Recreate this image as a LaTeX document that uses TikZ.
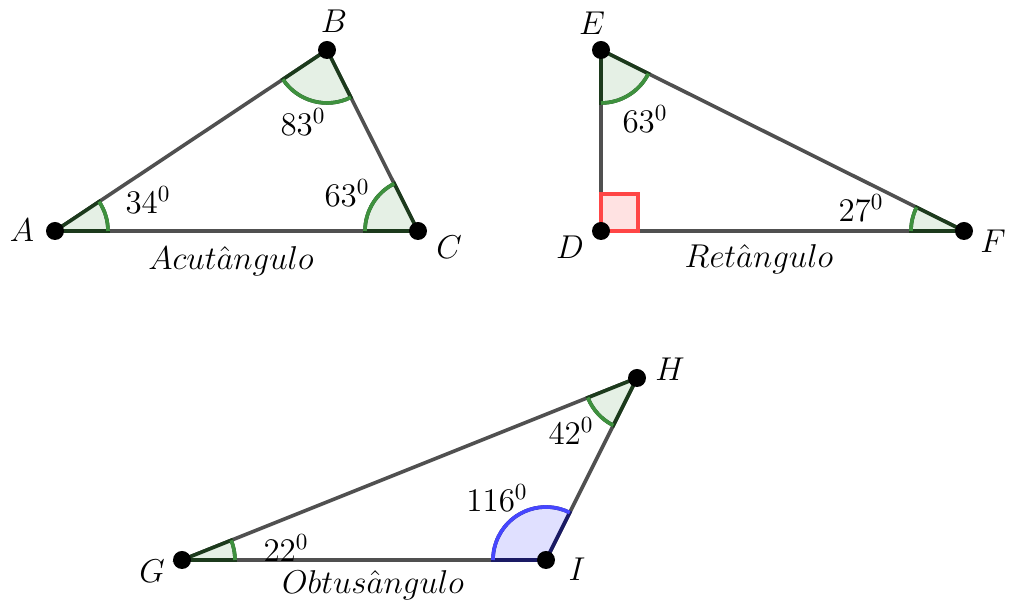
\RequirePackage{fix-cm}
\documentclass[tikz,border=0pt]{standalone}
\usepackage{amsmath}
\usetikzlibrary{calc}
\definecolor{sidegray}{RGB}{80,80,80}
\definecolor{arcgreen}{RGB}{62,145,62}
\definecolor{leggreen}{RGB}{28,58,28}
\definecolor{fillgreen}{RGB}{229,240,229}
\definecolor{arcblue}{RGB}{70,70,255}
\definecolor{legblue}{RGB}{26,26,100}
\definecolor{fillblue}{RGB}{224,224,255}
\definecolor{sqred}{RGB}{255,70,70}
\definecolor{fillred}{RGB}{255,226,226}
\tikzset{
  side/.style={draw=sidegray, line width=1.8pt},
  pt/.style={circle, fill=black, minimum size=9pt, inner sep=0pt},
  lbl/.style={inner sep=0pt},
  gsector/.style={fill=fillgreen, draw=leggreen, line width=1.8pt},
  garc/.style={draw=arcgreen, line width=1.8pt},
  bsector/.style={fill=fillblue, draw=legblue, line width=1.8pt},
  barc/.style={draw=arcblue, line width=1.8pt},
  rsquare/.style={fill=fillred, draw=sqred, line width=1.8pt},
}

\begin{document}
\begin{tikzpicture}[x=0.5pt, y=0.5pt, font=\fontsize{16.5}{20}\selectfont]
  \useasboundingbox (0,0) rectangle (1009,603);

  % ----- vertices -----------------------------------------------------------
  \coordinate (A) at (55,372);
  \coordinate (B) at (327,553);
  \coordinate (C) at (418,372);
  \coordinate (D) at (601,372);
  \coordinate (E) at (601,553);
  \coordinate (F) at (964,372);
  \coordinate (G) at (182,43);
  \coordinate (H) at (637,225);
  \coordinate (I) at (546,43);

  % ----- sides --------------------------------------------------------------
  \draw[side] (A) -- (B) -- (C) -- cycle;
  \draw[side] (D) -- (E) -- (F) -- cycle;
  \draw[side] (G) -- (H) -- (I) -- cycle;

  % ----- angle marks: acute triangle ----------------------------------------
  \filldraw[gsector] (A) -- ++(0:53) arc[start angle=0, end angle=33.64, radius=53] -- cycle;
  \draw[garc] (A) ++(0:53) arc[start angle=0, end angle=33.64, radius=53];
  \filldraw[gsector] (B) -- ++(213.64:53) arc[start angle=213.64, end angle=296.69, radius=53] -- cycle;
  \draw[garc] (B) ++(213.64:53) arc[start angle=213.64, end angle=296.69, radius=53];
  \filldraw[gsector] (C) -- ++(116.69:53) arc[start angle=116.69, end angle=180, radius=53] -- cycle;
  \draw[garc] (C) ++(116.69:53) arc[start angle=116.69, end angle=180, radius=53];

  % ----- angle marks: right triangle ----------------------------------------
  \filldraw[rsquare] (D) rectangle ++(37,37);
  \filldraw[gsector] (E) -- ++(270:53) arc[start angle=270, end angle=333.5, radius=53] -- cycle;
  \draw[garc] (E) ++(270:53) arc[start angle=270, end angle=333.5, radius=53];
  \filldraw[gsector] (F) -- ++(153.5:53) arc[start angle=153.5, end angle=180, radius=53] -- cycle;
  \draw[garc] (F) ++(153.5:53) arc[start angle=153.5, end angle=180, radius=53];

  % ----- angle marks: obtuse triangle ---------------------------------------
  \filldraw[gsector] (G) -- ++(0:53) arc[start angle=0, end angle=21.8, radius=53] -- cycle;
  \draw[garc] (G) ++(0:53) arc[start angle=0, end angle=21.8, radius=53];
  \filldraw[gsector] (H) -- ++(201.8:53) arc[start angle=201.8, end angle=243.43, radius=53] -- cycle;
  \draw[garc] (H) ++(201.8:53) arc[start angle=201.8, end angle=243.43, radius=53];
  \filldraw[bsector] (I) -- ++(63.43:53) arc[start angle=63.43, end angle=180, radius=53] -- cycle;
  \draw[barc] (I) ++(63.43:53) arc[start angle=63.43, end angle=180, radius=53];

  % ----- points -------------------------------------------------------------
  \node[pt] (Adot) at (A) {};
  \node[pt] (Bdot) at (B) {};
  \node[pt] (Cdot) at (C) {};
  \node[pt] (Ddot) at (D) {};
  \node[pt] (Edot) at (E) {};
  \node[pt] (Fdot) at (F) {};
  \node[pt] (Gdot) at (G) {};
  \node[pt] (Hdot) at (H) {};
  \node[pt] (Idot) at (I) {};

  % ----- vertex labels ------------------------------------------------------
  \node[lbl] (labA) at (22,373) {$A$};
  \node[lbl] (labB) at (334,582) {$B$};
  \node[lbl] (labC) at (449,356) {$C$};
  \node[lbl] (labD) at (570,356) {$D$};
  \node[lbl] (labE) at (592,580) {$E$};
  \node[lbl] (labF) at (993,362) {$F$};
  \node[lbl] (labG) at (152,32) {$G$};
  \node[lbl] (labH) at (670,234) {$H$};
  \node[lbl] (labI) at (577,34) {$I$};

  % ----- angle values -------------------------------------------------------
  \node[lbl] (angA) at (148,403) {$34^0$};
  \node[lbl] (angB) at (303,481) {$83^0$};
  \node[lbl] (angC) at (347,410) {$63^0$};
  \node[lbl] (angE) at (645,484) {$63^0$};
  \node[lbl] (angF) at (861,395) {$27^0$};
  \node[lbl] (angG) at (286,55) {$22^0$};
  \node[lbl] (angH) at (571,172) {$42^0$};
  \node[lbl] (angI) at (497,105) {$116^0$};

  % ----- triangle names -----------------------------------------------------
  \node[lbl] (nameABC) at (231,342) {$Acut\hat{a}ngulo$};
  \node[lbl] (nameDEF) at (759,344) {$Ret\hat{a}ngulo$};
  \node[lbl] (nameGHI) at (373,18) {$Obtus\hat{a}ngulo$};

\end{tikzpicture}
\end{document}
